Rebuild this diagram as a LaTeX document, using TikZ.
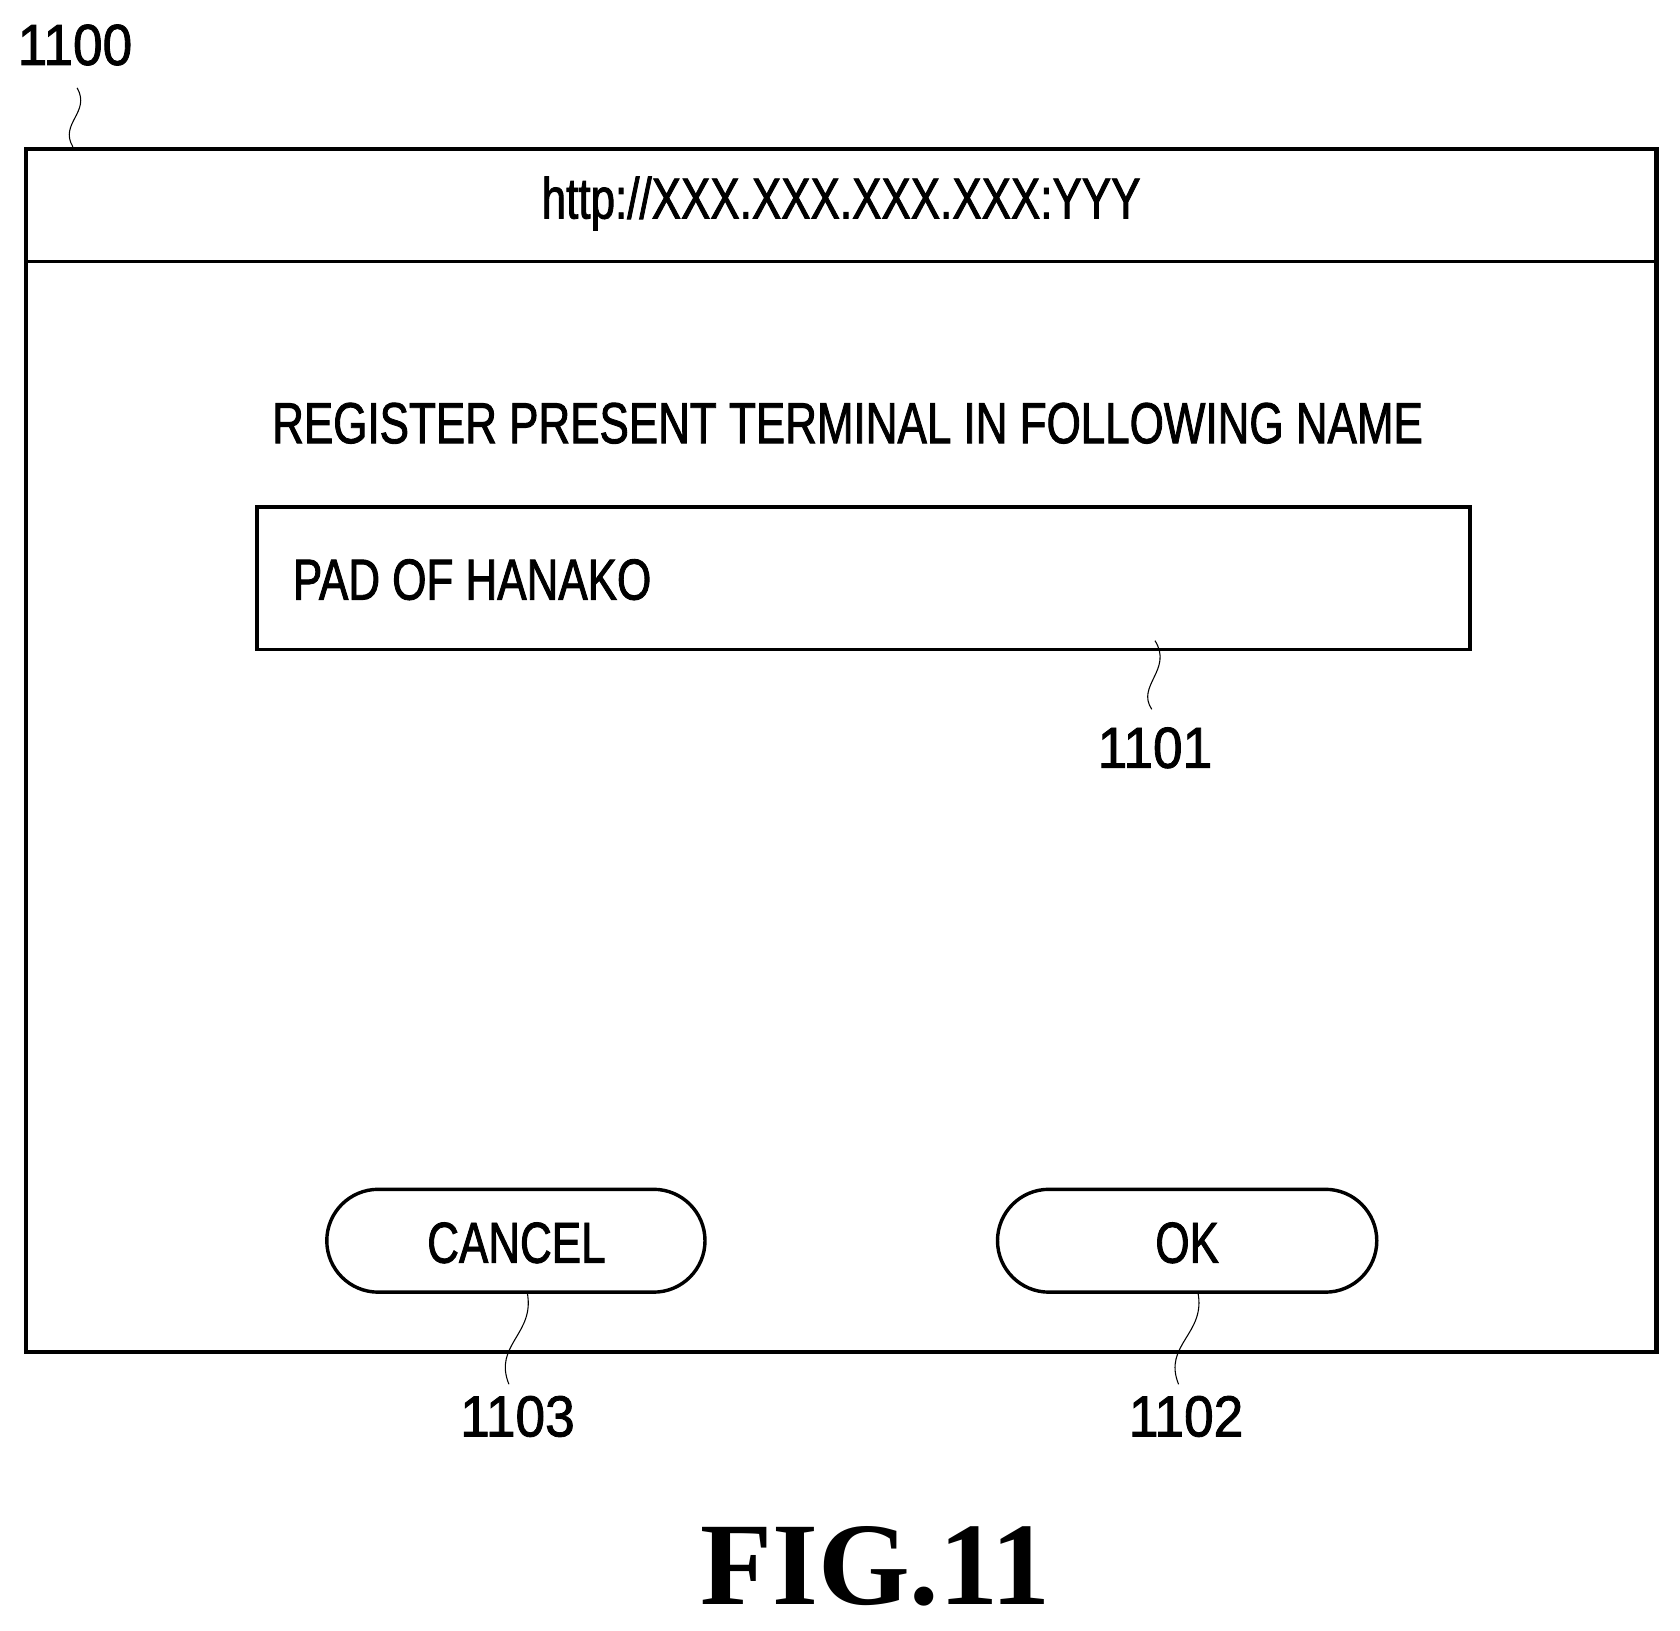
\documentclass[tikz,border=0pt]{standalone}
\usepackage{fontspec}
\setmainfont{Liberation Sans}[FakeStretch=0.76,FakeBold=1.5]
\newfontfamily\numfont{Liberation Sans}[FakeStretch=0.92,FakeBold=1.5]
\newfontfamily\figfont{Liberation Serif}
\begin{document}
\begin{tikzpicture}[x=0.5pt,y=-0.5pt,
  lbl/.style={font=\fontsize{27}{27}\selectfont,inner sep=0},
  num/.style={font=\numfont\fontsize{27}{27}\selectfont,inner sep=0},
  lead/.style={line width=0.5pt},
  btn/.style={draw,line width=1.6pt,rounded corners=24pt}]
\useasboundingbox (0,0) rectangle (1568,1522);
\draw[line width=2pt] (24,139) rectangle (1546,1262);
\draw[line width=1.6pt] (24,244) -- (1546,244);
\node[lbl] (url) at (785,190) {http://XXX.XXX.XXX.XXX:YYY};
\node[lbl] (reg) at (791,395) {REGISTER PRESENT TERMINAL IN FOLLOWING NAME};
\draw[line width=1.6pt] (240,473) rectangle (1372,606);
\node[lbl,anchor=west] (pad) at (273,541) {PAD OF HANAKO};
\draw[btn] (305,1110) rectangle (658,1206);
\draw[btn] (931,1110) rectangle (1285,1206);
\node[lbl] (cancel) at (482,1160) {CANCEL};
\node[lbl] (ok) at (1108,1160) {OK};
\node[num] (l1100) at (70,42) {1100};
\node[num] (l1101) at (1078,698) {1101};
\node[num] (l1103) at (483,1322) {1103};
\node[num] (l1102) at (1107,1322) {1102};
\coordinate (a1) at (68,137); \coordinate (b1) at (72,82);
\draw[lead] (a1) .. controls (55,115) and (85,105) .. (b1);
\coordinate (a2) at (1078,598); \coordinate (b2) at (1075,662);
\draw[lead] (a2) .. controls (1095,625) and (1060,640) .. (b2);
\coordinate (a3) at (492,1206); \coordinate (b3) at (475,1292);
\draw[lead] (a3) .. controls (500,1245) and (460,1255) .. (b3);
\coordinate (a4) at (1118,1206); \coordinate (b4) at (1100,1292);
\draw[lead] (a4) .. controls (1126,1245) and (1085,1255) .. (b4);
\node[inner sep=0] (fig) at (817,1462) {\figfont\bfseries\fontsize{55}{55}\selectfont FIG.11};
\end{tikzpicture}
\end{document}
